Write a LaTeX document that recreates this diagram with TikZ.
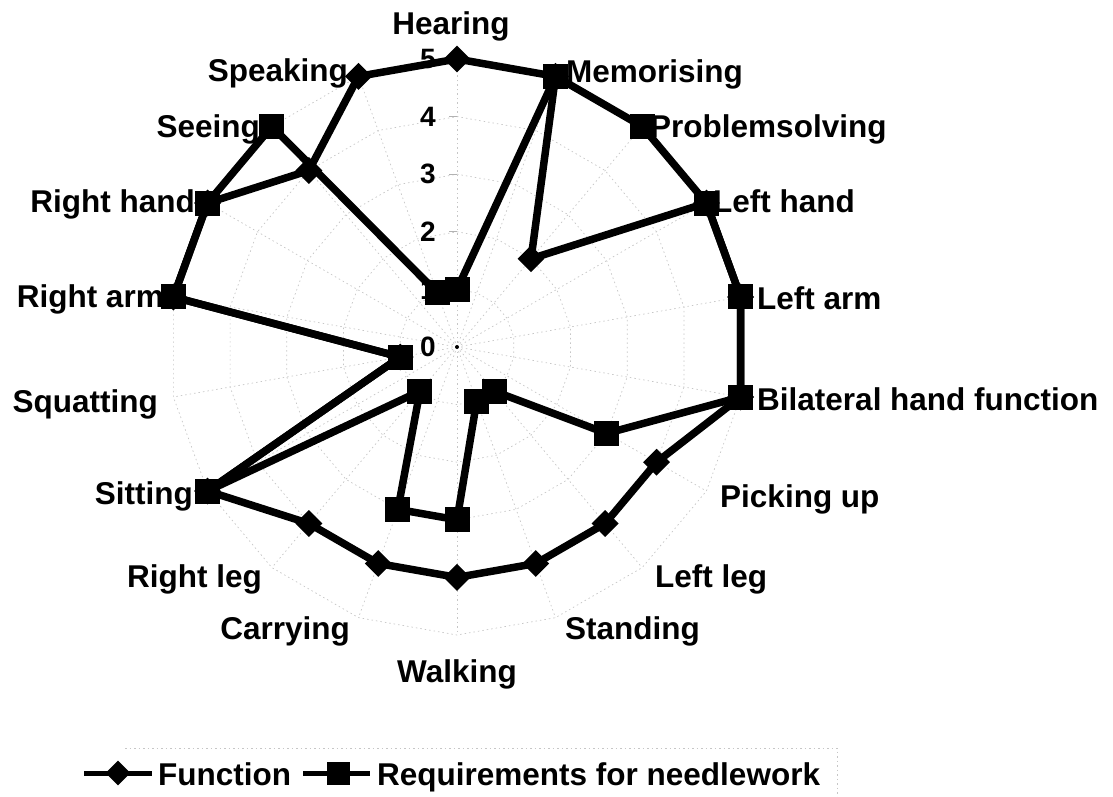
\documentclass[tikz,border=0pt]{standalone}
\usepackage{fontspec}
\setmainfont{Liberation Sans}
\usetikzlibrary{shapes.geometric}

\tikzset{
  gridline/.style={gray!45, line width=0.7pt, dash pattern=on 1.5pt off 3pt},
  series/.style={black, line width=7.5pt, line join=round},
  fmark/.style={diamond, fill=black, draw=none, inner sep=0pt, minimum width=27pt, minimum height=27pt},
  rmark/.style={rectangle, fill=black, draw=none, inner sep=0pt, minimum size=25pt},
  catlab/.style={font=\fontsize{31.5}{36}\selectfont\bfseries, inner sep=0pt},
  vallab/.style={font=\fontsize{28}{32}\selectfont\bfseries, inner sep=0pt},
  legbox/.style={gray!45, line width=0.8pt, dash pattern=on 1.5pt off 3pt}
}

\begin{document}
\begin{tikzpicture}[x=1pt, y=-1pt]
\useasboundingbox (0,0) rectangle (1113,797);

\begin{scope}[shift={(457,347)}]
  % radar grid: 18 spokes and rings at levels 1..5
  \foreach \j in {0,...,17}
    \draw[gridline] (0,0) -- ({20*\j-90}:288);
  \foreach \k in {1,...,5}
    \draw[gridline] (-90:{57.6*\k})
      \foreach \j in {1,...,17} { -- ({20*\j-90}:{57.6*\k}) } -- cycle;
  \foreach \k in {1,...,5}
    \draw[gray!60, line width=0.8pt] (-8,{-57.6*\k}) -- (0,{-57.6*\k});
  \fill (0,0) circle (2);

  % scale values
  \foreach \k in {0,...,5}
    \node[vallab] (v\k) at (-29,{-57.6*\k}) {\k};

  % data points: index / function / requirements for needlework
  \foreach \i/\fv/\rv in {0/5/1, 1/5/5, 2/2/5, 3/5/5, 4/5/5, 5/5/5,
                          6/4/3, 7/4/1, 8/4/1, 9/4/3, 10/4/3, 11/4/1,
                          12/5/5, 13/1/1, 14/5/5, 15/5/5, 16/4/5, 17/5/1} {
    \coordinate (f\i) at ({20*\i-90}:{57.6*\fv});
    \coordinate (r\i) at ({20*\i-90}:{57.6*\rv});
  }
\end{scope}

% function series
\draw[series] (f0) -- (f1) -- (f2) -- (f3) -- (f4) -- (f5) -- (f6) -- (f7) -- (f8)
  -- (f9) -- (f10) -- (f11) -- (f12) -- (f13) -- (f14) -- (f15) -- (f16) -- (f17) -- cycle;
% requirements series
\draw[series] (r0) -- (r1) -- (r2) -- (r3) -- (r4) -- (r5) -- (r6) -- (r7) -- (r8)
  -- (r9) -- (r10) -- (r11) -- (r12) -- (r13) -- (r14) -- (r15) -- (r16) -- (r17) -- cycle;

\foreach \i in {0,...,17} \node[fmark] (fm\i) at (f\i) {};
\foreach \i in {0,...,17} \node[rmark] (rm\i) at (r\i) {};

% category labels
\node[catlab, anchor=base]      (l0)  at (451,35)  {Hearing};
\node[catlab, anchor=base west] (l1)  at (566,83)  {Memorising};
\node[catlab, anchor=base west] (l2)  at (650,137) {Problemsolving};
\node[catlab, anchor=base west] (l3)  at (713,212) {Left hand};
\node[catlab, anchor=base west] (l4)  at (757,309) {Left arm};
\node[catlab, anchor=base west] (l5)  at (757,410) {Bilateral hand function};
\node[catlab, anchor=base west] (l6)  at (720,507) {Picking up};
\node[catlab, anchor=base west] (l7)  at (655,587) {Left leg};
\node[catlab, anchor=base west] (l8)  at (565,639) {Standing};
\node[catlab, anchor=base]      (l9)  at (457,682) {Walking};
\node[catlab, anchor=base east] (l10) at (350,639) {Carrying};
\node[catlab, anchor=base east] (l11) at (262,587) {Right leg};
\node[catlab, anchor=base east] (l12) at (193,504) {Sitting};
\node[catlab, anchor=base east] (l13) at (158,412) {Squatting};
\node[catlab, anchor=base east] (l14) at (164,307) {Right arm};
\node[catlab, anchor=base east] (l15) at (195,212) {Right hand};
\node[catlab, anchor=base east] (l16) at (260,137) {Seeing};
\node[catlab, anchor=base east] (l17) at (348,82)  {Speaking};

% legend
\coordinate (bx0) at (125,748);
\coordinate (bx1) at (837,748);
\coordinate (bx2) at (837,800);
\draw[legbox] (bx0) -- (bx1) -- (bx2);

\coordinate (la) at (84,773);
\coordinate (lb) at (152,773);
\draw[black, line width=5pt] (la) -- (lb);
\node[fmark, minimum width=25pt, minimum height=25pt] (lgf) at (118,773) {};
\node[catlab, anchor=base west] (lgft) at (158,785) {Function};

\coordinate (lc) at (303,773);
\coordinate (ld) at (370,773);
\draw[black, line width=5pt] (lc) -- (ld);
\node[rmark, minimum size=23pt] (lgr) at (338,773) {};
\node[catlab, anchor=base west] (lgrt) at (377,785) {Requirements for needlework};
\end{tikzpicture}
\end{document}
